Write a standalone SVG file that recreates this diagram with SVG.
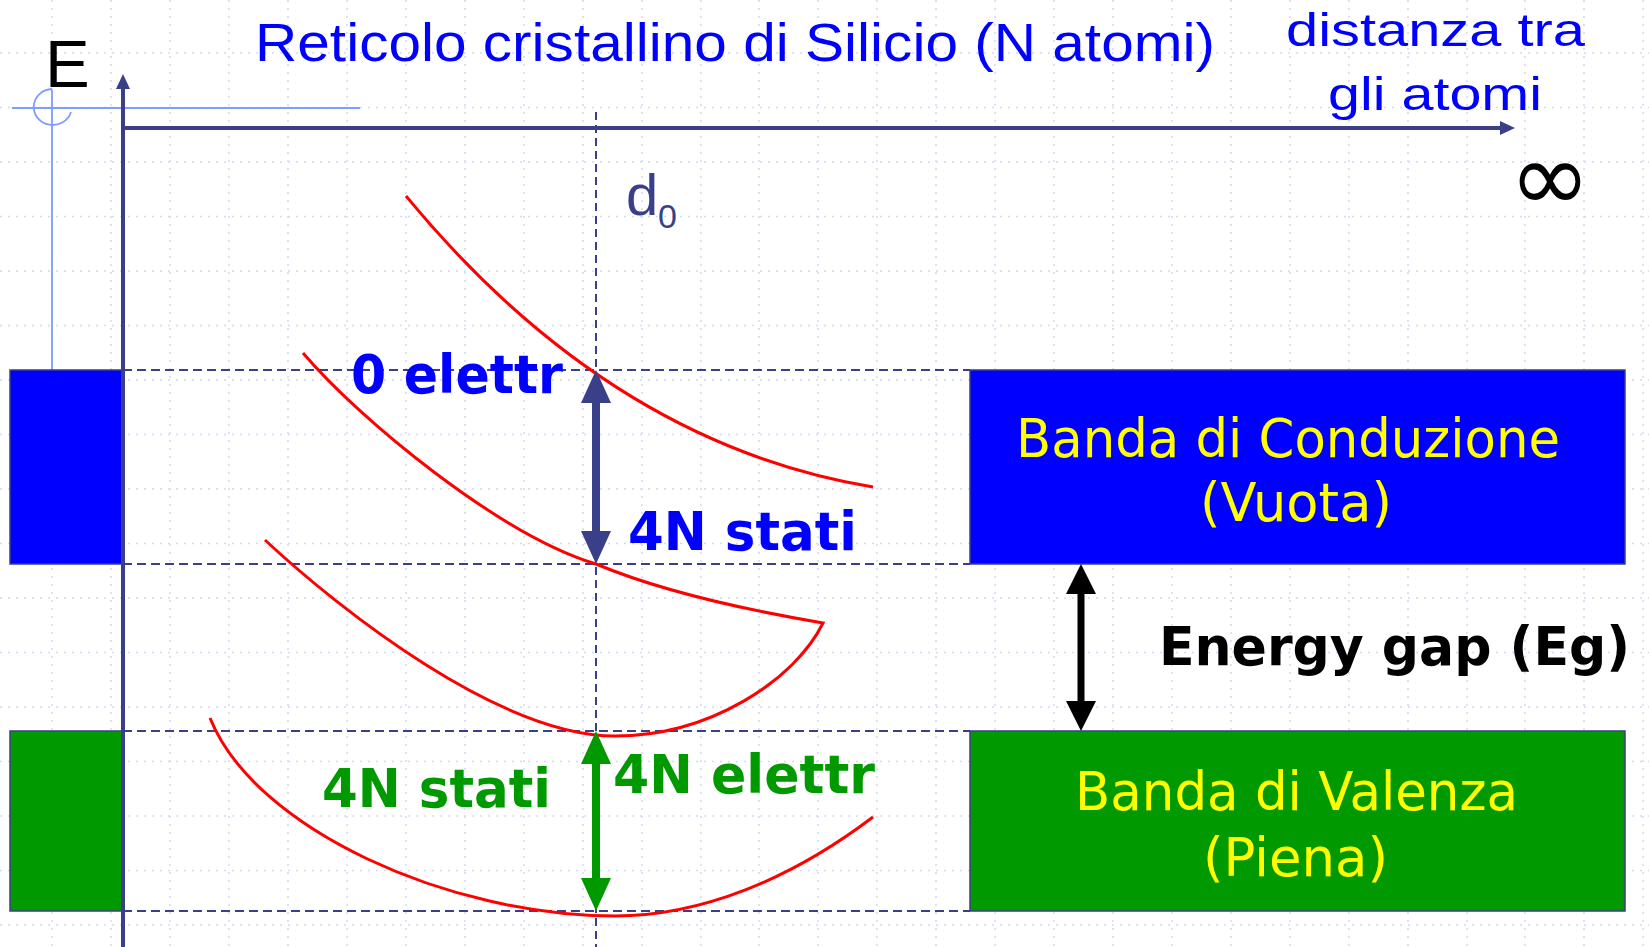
<svg xmlns="http://www.w3.org/2000/svg" width="1649" height="947" viewBox="0 0 1649 947">
  <style>
    .grid line { stroke: #cfdaf6; stroke-width: 1.5; stroke-dasharray: 2 6; }
    .axis { stroke: #3a3f8a; stroke-width: 4; fill: none; }
    .guide { stroke: #3a3f8a; stroke-width: 2; stroke-dasharray: 9 5; fill: none; }
    .vguide { stroke: #3a3f8a; stroke-width: 2; stroke-dasharray: 8 5; fill: none; }
    .light { stroke: #7f9cff; stroke-width: 1.8; fill: none; }
    .curve { stroke: #ff0000; stroke-width: 3; fill: none; stroke-linejoin: miter; }
    .cb { fill: #0000ff; stroke: #3a3f8a; stroke-width: 1.5; }
    .vb { fill: #009900; stroke: #3a3f8a; stroke-width: 1.5; }
    .sans { font-family: "Liberation Sans", Arial, sans-serif; }
    .bold { font-family: "DejaVu Sans", Verdana, sans-serif; font-weight: bold; font-size: 53px; }
    .band { font-family: "DejaVu Sans", Verdana, sans-serif; font-size: 54px; fill: #ffff00; }
  </style>
  <defs>
    <marker id="hBlue" markerUnits="userSpaceOnUse" viewBox="0 -16 34 32" markerWidth="34" markerHeight="32" refX="13" refY="0" orient="auto-start-reverse">
      <path d="M0,-15 L33,0 L0,15 Z" fill="#3a3f8a"/>
    </marker>
    <marker id="hGreen" markerUnits="userSpaceOnUse" viewBox="0 -16 34 32" markerWidth="34" markerHeight="32" refX="13" refY="0" orient="auto-start-reverse">
      <path d="M0,-15 L33,0 L0,15 Z" fill="#009900"/>
    </marker>
    <marker id="hBlack" markerUnits="userSpaceOnUse" viewBox="0 -16 34 32" markerWidth="34" markerHeight="32" refX="12" refY="0" orient="auto-start-reverse">
      <path d="M0,-15 L30,0 L0,15 Z" fill="#000000"/>
    </marker>
    <marker id="hAxis" markerUnits="userSpaceOnUse" viewBox="0 -8 16 16" markerWidth="16" markerHeight="16" refX="6" refY="0" orient="auto">
      <path d="M0,-7 L15,0 L0,7 Z" fill="#3a3f8a"/>
    </marker>
  </defs>

  <rect width="1649" height="947" fill="#ffffff"/>

  <g id="grid" class="grid">
    <line x1="-7" y1="0" x2="-7" y2="947"/>
    <line x1="52" y1="0" x2="52" y2="947"/>
    <line x1="111" y1="0" x2="111" y2="947"/>
    <line x1="170" y1="0" x2="170" y2="947"/>
    <line x1="229" y1="0" x2="229" y2="947"/>
    <line x1="288" y1="0" x2="288" y2="947"/>
    <line x1="347" y1="0" x2="347" y2="947"/>
    <line x1="406" y1="0" x2="406" y2="947"/>
    <line x1="465" y1="0" x2="465" y2="947"/>
    <line x1="524" y1="0" x2="524" y2="947"/>
    <line x1="583" y1="0" x2="583" y2="947"/>
    <line x1="642" y1="0" x2="642" y2="947"/>
    <line x1="701" y1="0" x2="701" y2="947"/>
    <line x1="759" y1="0" x2="759" y2="947"/>
    <line x1="818" y1="0" x2="818" y2="947"/>
    <line x1="877" y1="0" x2="877" y2="947"/>
    <line x1="936" y1="0" x2="936" y2="947"/>
    <line x1="995" y1="0" x2="995" y2="947"/>
    <line x1="1054" y1="0" x2="1054" y2="947"/>
    <line x1="1113" y1="0" x2="1113" y2="947"/>
    <line x1="1172" y1="0" x2="1172" y2="947"/>
    <line x1="1231" y1="0" x2="1231" y2="947"/>
    <line x1="1290" y1="0" x2="1290" y2="947"/>
    <line x1="1349" y1="0" x2="1349" y2="947"/>
    <line x1="1408" y1="0" x2="1408" y2="947"/>
    <line x1="1467" y1="0" x2="1467" y2="947"/>
    <line x1="1525" y1="0" x2="1525" y2="947"/>
    <line x1="1584" y1="0" x2="1584" y2="947"/>
    <line x1="1643" y1="0" x2="1643" y2="947"/>
    <line x1="0" y1="53" x2="1649" y2="53"/>
    <line x1="0" y1="107.5" x2="1649" y2="107.5"/>
    <line x1="0" y1="162" x2="1649" y2="162"/>
    <line x1="0" y1="216.5" x2="1649" y2="216.5"/>
    <line x1="0" y1="271" x2="1649" y2="271"/>
    <line x1="0" y1="325.5" x2="1649" y2="325.5"/>
    <line x1="0" y1="380" x2="1649" y2="380"/>
    <line x1="0" y1="434.5" x2="1649" y2="434.5"/>
    <line x1="0" y1="489" x2="1649" y2="489"/>
    <line x1="0" y1="543.5" x2="1649" y2="543.5"/>
    <line x1="0" y1="598" x2="1649" y2="598"/>
    <line x1="0" y1="652.5" x2="1649" y2="652.5"/>
    <line x1="0" y1="707" x2="1649" y2="707"/>
    <line x1="0" y1="761.5" x2="1649" y2="761.5"/>
    <line x1="0" y1="816" x2="1649" y2="816"/>
    <line x1="0" y1="870.5" x2="1649" y2="870.5"/>
    <line x1="0" y1="925" x2="1649" y2="925"/>
  </g>

  <g id="guides">
    <line class="light" x1="12" y1="108" x2="360" y2="108"/>
    <line class="light" x1="52" y1="90" x2="52" y2="370"/>
    <path class="light" d="M52,89 A19,18 0 1 0 71,112"/>
    <line class="guide" x1="123" y1="370" x2="970" y2="370"/>
    <line class="guide" x1="123" y1="564" x2="970" y2="564"/>
    <line class="guide" x1="123" y1="731" x2="970" y2="731"/>
    <line class="guide" x1="123" y1="911" x2="970" y2="911"/>
    <line class="vguide" x1="596" y1="112" x2="596" y2="947"/>
  </g>

  <g id="left-bands">
    <rect id="left-conduction" class="cb" x="10" y="370" width="113" height="194"/>
    <rect id="left-valence" class="vb" x="10" y="731" width="113" height="180"/>
  </g>

  <g id="axes">
    <line class="axis" x1="123" y1="947" x2="123" y2="83" marker-end="url(#hAxis)"/>
    <line class="axis" x1="121" y1="128" x2="1506" y2="128" marker-end="url(#hAxis)"/>
    <text class="sans" x="45" y="87" font-size="67" fill="#000000">E</text>
    <text class="sans" x="255" y="61" font-size="53" fill="#0000ff" textLength="960" lengthAdjust="spacingAndGlyphs">Reticolo cristallino di Silicio (N atomi)</text>
    <text class="sans" x="1286" y="46" font-size="47" fill="#0000ff" textLength="299" lengthAdjust="spacingAndGlyphs">distanza tra</text>
    <text class="sans" x="1328" y="110" font-size="47" fill="#0000ff" textLength="214" lengthAdjust="spacingAndGlyphs">gli atomi</text>
    <text x="1550" y="211" font-family="DejaVu Sans, sans-serif" font-size="98" text-anchor="middle" fill="#000000">∞</text>
    <text class="sans" x="626" y="215" font-size="58" fill="#3a3f8a">d</text>
    <text class="sans" x="658" y="228" font-size="34" fill="#3a3f8a">0</text>
  </g>

  <g id="bands-curves">
    <path class="curve" d="M406,196 C500,310 650,450 873,487"/>
    <path class="curve" d="M303,353 C360,420 500,535 596,564 C670,595 770,614 823,623 C795,680 710,736 615,736 C500,736 340,610 265,540"/>
    <path class="curve" d="M210,718 C255,830 450,916 615,916 C700,916 790,880 873,817"/>
  </g>

  <g id="conduction-band">
    <rect class="cb" x="970" y="370" width="655" height="194"/>
    <text class="band" x="1016" y="457" textLength="544" lengthAdjust="spacingAndGlyphs">Banda di Conduzione</text>
    <text class="band" x="1200" y="521" textLength="192" lengthAdjust="spacingAndGlyphs">(Vuota)</text>
  </g>

  <g id="valence-band">
    <rect class="vb" x="970" y="731" width="655" height="180"/>
    <text class="band" x="1075" y="810" textLength="443" lengthAdjust="spacingAndGlyphs">Banda di Valenza</text>
    <text class="band" x="1203" y="876" textLength="185" lengthAdjust="spacingAndGlyphs">(Piena)</text>
  </g>

  <g id="labels">
    <text class="bold" x="351" y="393" fill="#0000ff" textLength="212" lengthAdjust="spacingAndGlyphs">0 elettr</text>
    <text class="bold" x="628" y="550" fill="#0000ff" textLength="229" lengthAdjust="spacingAndGlyphs">4N stati</text>
    <text class="bold" x="322" y="807" fill="#009900" textLength="229" lengthAdjust="spacingAndGlyphs">4N stati</text>
    <text class="bold" x="613" y="793" fill="#009900" textLength="262" lengthAdjust="spacingAndGlyphs">4N elettr</text>
    <text class="bold" x="1159" y="665" font-size="55" fill="#000000" textLength="471" lengthAdjust="spacingAndGlyphs">Energy gap (Eg)</text>
  </g>

  <g id="connectors">
    <line x1="596" y1="390" x2="596" y2="544" stroke="#3a3f8a" stroke-width="8" marker-start="url(#hBlue)" marker-end="url(#hBlue)"/>
    <line x1="596" y1="751" x2="596" y2="891" stroke="#009900" stroke-width="8" marker-start="url(#hGreen)" marker-end="url(#hGreen)"/>
    <line x1="1081" y1="582" x2="1081" y2="713" stroke="#000000" stroke-width="7" marker-start="url(#hBlack)" marker-end="url(#hBlack)"/>
  </g>
</svg>
